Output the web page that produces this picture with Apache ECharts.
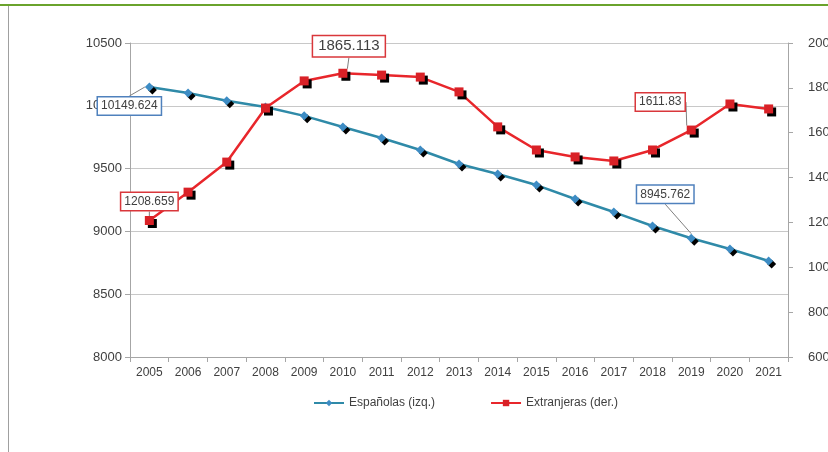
<!DOCTYPE html>
<html>
<head>
<meta charset="utf-8">
<script src="https://cdn.jsdelivr.net/npm/echarts@6/dist/echarts.min.js"></script>
<style>
  html, body { margin: 0; padding: 0; background: #fff; }
  #chart { width: 828px; height: 452px; }
</style>
</head>
<body>
<div id="chart"></div>
<script>
// años
const years = ['2005', '2006', '2007', '2008', '2009', '2010', '2011', '2012', '2013',
  '2014', '2015', '2016', '2017', '2018', '2019', '2020', '2021']
// Españolas (eje izq.)
const espanolas = [10149.624, 10102, 10040, 9990, 9920, 9831, 9744, 9648, 9537,
  9457, 9369, 9258, 9154, 9043, 8945.762, 8860, 8764]
// Extranjeras (eje der.)
const extranjeras = [1208.659, 1335, 1469, 1710, 1831, 1865.113, 1857, 1848, 1782,
  1626, 1523, 1492, 1474, 1523, 1611.83, 1728, 1706]

// puntos con etiqueta (índice -> desplazamiento de la etiqueta)
const espLabels = { 0: [-20, 19], 14: [-26, -44] }
const extLabels = { 0: [0, -19], 5: [6, -27], 14: [-31, -28] }

const font = 'Liberation Sans'
const axisColor = '#a6a6a6'

function buildData (values, labels, borderColor, bigIdx) {
  return values.map((v, i) => {
    if (!(i in labels)) return v
    return {
      value: v,
      label: {
        show: true,
        position: 'inside',
        formatter: String(v),
        color: '#404040',
        fontFamily: font,
        fontSize: i === bigIdx ? 15 : 12,
        backgroundColor: '#fff',
        borderColor: borderColor,
        borderWidth: 1.5,
        padding: i === bigIdx ? [3, 5, 2, 5] : [3, 3, 2, 3]
      },
      labelLine: { show: true, minTurnAngle: 0, lineStyle: { color: '#7f7f7f', width: 1 } }
    }
  })
}

const chart = echarts.init(document.getElementById('chart'))
chart.setOption({
  animation: false,
  backgroundColor: '#fff',
  graphic: [
    { type: 'rect', shape: { x: 0, y: 4, width: 828, height: 2 }, style: { fill: '#6aa32c' } },
    { type: 'rect', shape: { x: 8, y: 6, width: 1, height: 446 }, style: { fill: '#a0a0a0' } }
  ],
  grid: { left: 130, right: 40, top: 43, bottom: 95, containLabel: false, outerBoundsMode: 'none' },
  legend: {
    bottom: 38,
    left: 308,
    itemGap: 55,
    itemWidth: 30,
    itemHeight: 8,
    textStyle: { fontFamily: font, fontSize: 12, color: '#404040' },
    data: ['Españolas (izq.)', 'Extranjeras (der.)']
  },
  xAxis: {
    type: 'category',
    data: years,
    boundaryGap: true,
    axisLine: { lineStyle: { color: axisColor } },
    axisTick: { show: true, length: 5, lineStyle: { color: axisColor } },
    axisLabel: { color: '#404040', fontFamily: font, fontSize: 12, margin: 10 }
  },
  yAxis: [
    {
      type: 'value',
      min: 8000,
      max: 10500,
      interval: 500,
      axisLine: { show: true, lineStyle: { color: axisColor } },
      axisTick: { show: true, length: 5, lineStyle: { color: axisColor } },
      axisLabel: { color: '#404040', fontFamily: font, fontSize: 13, margin: 8, formatter: (v) => String(v) },
      splitLine: { lineStyle: { color: '#c8c8c8' } }
    },
    {
      type: 'value',
      min: 600,
      max: 2000,
      interval: 200,
      position: 'right',
      axisLine: { show: true, lineStyle: { color: axisColor } },
      axisTick: { show: true, length: 5, lineStyle: { color: axisColor } },
      axisLabel: { color: '#404040', fontFamily: font, fontSize: 13, margin: 20, formatter: (v) => String(v) },
      splitLine: { show: false }
    }
  ],
  series: [
    {
      name: 'Españolas (izq.)',
      type: 'line',
      yAxisIndex: 0,
      data: buildData(espanolas, espLabels, '#4f81bd', -1),
      symbol: 'diamond',
      symbolSize: 9,
      color: '#3a8db8',
      lineStyle: { color: '#2f8aa8', width: 2.5 },
      itemStyle: {
        color: '#3d8cc4',
        shadowColor: '#000',
        shadowBlur: 0,
        shadowOffsetX: 3,
        shadowOffsetY: 3
      },
      labelLayout: (p) => {
        const o = espLabels[p.dataIndex]
        return o ? { dx: o[0], dy: o[1] } : {}
      },
      z: 3
    },
    {
      name: 'Extranjeras (der.)',
      type: 'line',
      yAxisIndex: 1,
      data: buildData(extranjeras, extLabels, '#d9373b', 5),
      symbol: 'rect',
      symbolSize: 9,
      color: '#e0262b',
      lineStyle: { color: '#e8262b', width: 2.5 },
      itemStyle: {
        color: '#d92127',
        shadowColor: '#000',
        shadowBlur: 0,
        shadowOffsetX: 3,
        shadowOffsetY: 3
      },
      labelLayout: (p) => {
        const o = extLabels[p.dataIndex]
        return o ? { dx: o[0], dy: o[1] } : {}
      },
      z: 4
    }
  ]
})
</script>
</body>
</html>
